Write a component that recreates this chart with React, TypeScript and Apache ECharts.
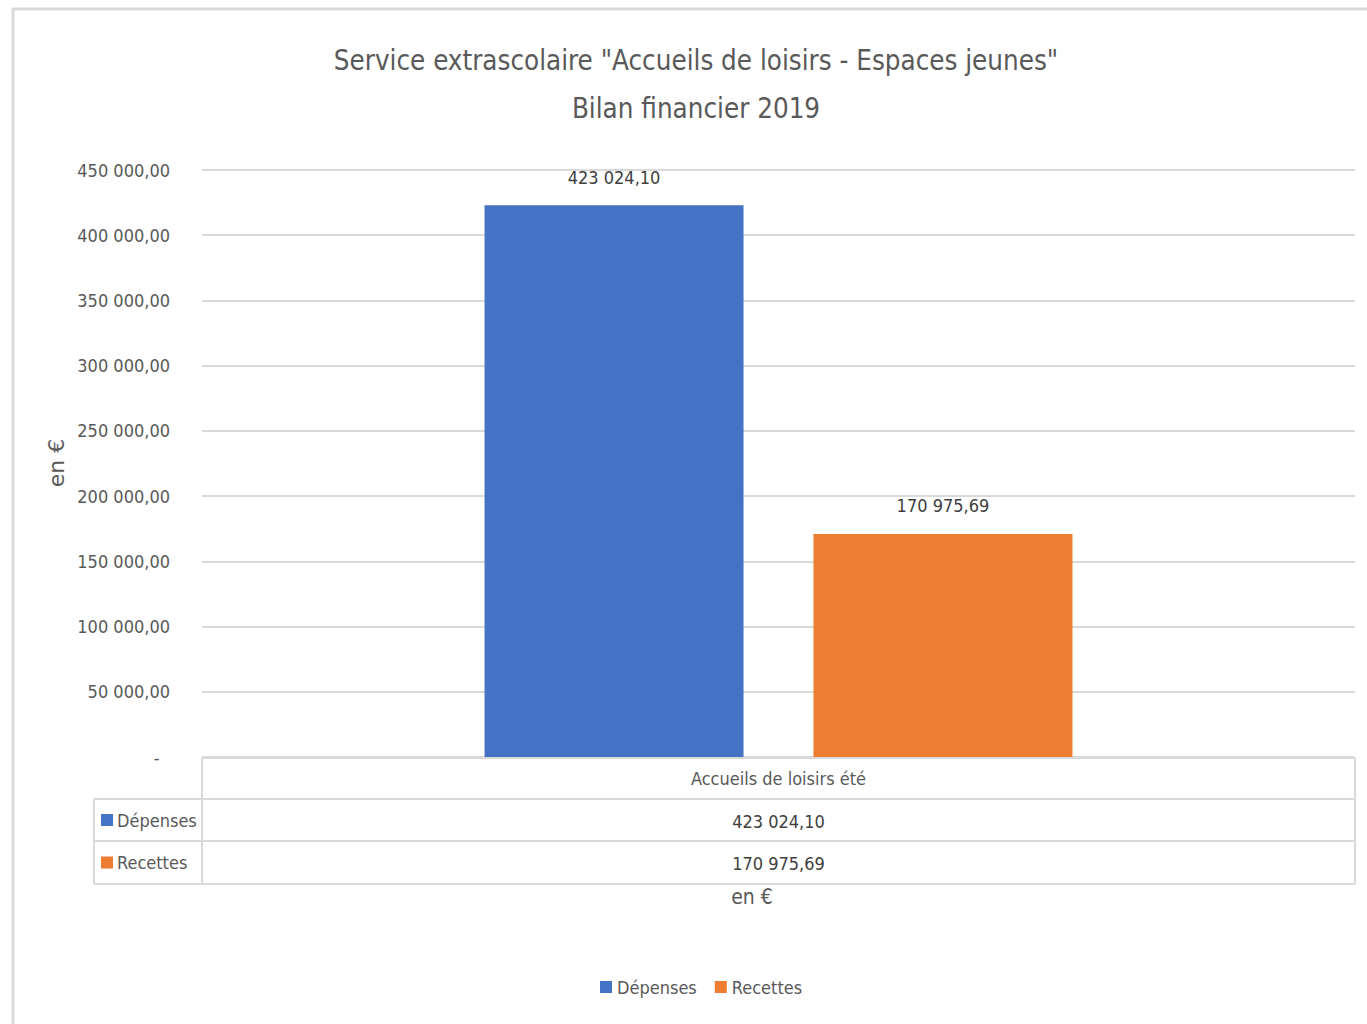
import React, { useEffect, useRef } from "react";
import * as echarts from "echarts";

const categories = ["Accueils de loisirs été"];
const seriesNames = ["Dépenses", "Recettes"];
const depenses = [423024.1];
const recettes = [170975.69];
const seriesColors = ["#4472C4", "#ED7D31"];
const titleLines = ['Service extrascolaire "Accueils de loisirs - Espaces jeunes"', "Bilan financier 2019"];
const axisTitle = "en €";

const FONT = "'DejaVu Sans Condensed', Roboto, sans-serif";

function fmt(v: number): string {
  const [i, d] = v.toFixed(2).split(".");
  return i.replace(/\B(?=(\d{3})+(?!\d))/g, " ") + "," + d;
}

export default function App() {
  const ref = useRef<HTMLDivElement>(null);
  useEffect(() => {
    document.body.style.margin = "0";
    const chart = echarts.init(ref.current!, null, { renderer: "svg" });
    const gl = 202, gr = 1355, gt = 170, gb = 757;
    const rowY = [758, 799, 841, 884];
    const lineStyle = { stroke: "#d9d9d9", lineWidth: 2 };
    const cx = (gl + gr) / 2;
    const allSeries = [depenses, recettes];
    const graphics: any[] = [
      { type: "rect", shape: { x: 13, y: 9, width: 1400, height: 1100 }, style: { fill: "none", stroke: "#d9d9d9", lineWidth: 3 }, silent: true },
      { type: "line", shape: { x1: gl, y1: rowY[0], x2: gl, y2: rowY[3] }, style: lineStyle },
      { type: "line", shape: { x1: gr, y1: rowY[0], x2: gr, y2: rowY[3] }, style: lineStyle },
      { type: "line", shape: { x1: 94, y1: rowY[1], x2: 94, y2: rowY[3] }, style: lineStyle },
      { type: "line", shape: { x1: gl, y1: rowY[0], x2: gr, y2: rowY[0] }, style: lineStyle },
      { type: "line", shape: { x1: 94, y1: rowY[1], x2: gr, y2: rowY[1] }, style: lineStyle },
      { type: "line", shape: { x1: 94, y1: rowY[2], x2: gr, y2: rowY[2] }, style: lineStyle },
      { type: "line", shape: { x1: 94, y1: rowY[3], x2: gr, y2: rowY[3] }, style: lineStyle },
    ];
    seriesNames.forEach((name, k) => {
      const ym = (rowY[k + 1] + rowY[k + 2]) / 2;
      graphics.push({ type: "rect", shape: { x: 101, y: ym - 6, width: 12, height: 12 }, style: { fill: seriesColors[k] } });
      graphics.push({ type: "text", x: 117, y: ym, style: { text: name, fill: "#595959", font: `18px ${FONT}`, textVerticalAlign: "middle", textAlign: "left" } });
      graphics.push({ type: "text", x: cx, y: ym + 1, style: { text: fmt(allSeries[k][0]), fill: "#404040", font: `18px ${FONT}`, textVerticalAlign: "middle", textAlign: "center" } });
    });
    graphics.push({ type: "text", x: 752, y: 897, style: { text: axisTitle, fill: "#595959", font: `21px ${FONT}`, textVerticalAlign: "middle", textAlign: "center" } });
    graphics.push({ type: "text", x: 56, y: 463, rotation: Math.PI / 2, style: { text: axisTitle, fill: "#595959", font: `22px 'DejaVu Sans', sans-serif`, textVerticalAlign: "middle", textAlign: "center" } });

    chart.setOption({
      animation: false,
      backgroundColor: "#ffffff",
      title: {
        text: titleLines.join("\n"),
        left: 691,
        textAlign: "center",
        top: 31,
        textStyle: { fontFamily: FONT, fontSize: 27.5, fontWeight: "normal", color: "#595959", lineHeight: 48 },
      },
      grid: { left: gl, right: 1367 - gr, top: gt, bottom: 1024 - gb, containLabel: false },
      legend: {
        data: seriesNames,
        left: 595,
        top: 973,
        icon: "rect",
        itemWidth: 12,
        itemHeight: 12,
        itemGap: 18,
        textStyle: { fontFamily: FONT, fontSize: 18, color: "#595959" },
      },
      xAxis: {
        type: "category",
        data: categories,
        axisLine: { show: false },
        axisTick: { show: false },
        axisLabel: { margin: 12, fontFamily: FONT, fontSize: 18, color: "#595959" },
      },
      yAxis: {
        type: "value",
        min: 0,
        max: 450000,
        interval: 50000,
        axisLine: { show: false },
        axisTick: { show: false },
        splitLine: { lineStyle: { color: "#d9d9d9", width: 2 } },
        axisLabel: {
          margin: 32,
          fontFamily: FONT,
          fontSize: 18,
          color: "#595959",
          formatter: (v: number) => (v === 0 ? "-  " : fmt(v)),
        },
      },
      series: seriesNames.map((name, k) => ({
        name,
        type: "bar",
        data: allSeries[k],
        barWidth: 259,
        barGap: "27%",
        itemStyle: { color: seriesColors[k] },
        label: {
          show: true,
          position: "top",
          distance: 19,
          formatter: (p: any) => fmt(p.value),
          fontFamily: FONT,
          fontSize: 18,
          color: "#404040",
        },
      })),
      graphic: graphics,
    });
    return () => chart.dispose();
  }, []);
  return <div ref={ref} style={{ width: 1367, height: 1024 }} />;
}
